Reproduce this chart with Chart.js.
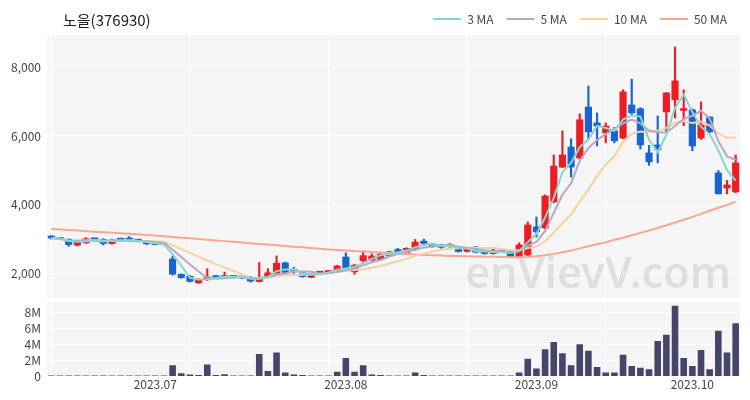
<!DOCTYPE html>
<html>
<head>
<meta charset="utf-8">
<script src="https://cdn.jsdelivr.net/npm/chart.js@4.4.0/dist/chart.umd.min.js"></script>
<style>
  body { margin: 0; background: #fff; }
  #price { position: absolute; left: 0; top: 0; }
  #vol { position: absolute; left: 0; top: 300px; }
</style>
</head>
<body>
<canvas id="price" width="750" height="300"></canvas>
<canvas id="vol" width="750" height="100"></canvas>
<script>
// 노을(376930) 일봉 - 시가/고가/저가/종가
var opens  = [3090,3040,3000,2830,2900,3010,3000,2880,3000,3040,2970,2950,2900,2880,2430,1990,1930,1740,1830,1930,
              1880,1920,1900,1900,1780,1910,2010,2320,2130,2030,1900,2020,2040,2070,2490,2060,2380,2400,2420,2520,
              2700,2590,2700,2950,2870,2840,2790,2780,2650,2780,2660,2590,2680,2660,2490,2550,3360,3330,4090,5100,
              5680,5360,6840,6380,6090,6150,5940,6900,6790,5510,5740,6700,7050,6740,6760,5940,6550,4930,4490,4380];
var highs  = [3110,3060,3020,2960,3050,3030,3020,3010,3020,3080,2990,2970,2920,2900,2520,2000,1950,1860,2150,1960,
              2050,1940,1920,1920,2330,2150,2520,2340,2190,2050,2010,2070,2090,2250,2610,2280,2660,2580,2620,2660,
              2740,2760,3000,3010,2890,2860,2880,2800,2740,2800,2680,2720,2700,2690,2900,3510,3650,4290,5450,6150,
              5920,6640,7450,6670,6380,6250,7340,7650,6820,5730,6580,7260,8580,7340,6790,6990,6560,5000,4710,5450];
var lows   = [3010,2990,2800,2810,2880,2970,2840,2860,2960,2930,2930,2850,2840,2840,1960,1870,1760,1720,1810,1870,
              1860,1880,1860,1760,1760,1890,1990,2010,2010,1900,1890,2010,2030,2060,2130,1990,2340,2380,2400,2500,
              2620,2570,2680,2830,2770,2740,2770,2630,2630,2610,2570,2570,2620,2480,2470,2530,3070,3310,4060,5080,
              4810,5330,5890,5710,5800,5800,5920,6600,5620,5150,5220,6120,6520,6300,5570,5900,6100,4320,4320,4350];
var closes = [3040,3000,2850,2950,3020,2990,2880,2990,2980,2950,2950,2870,2850,2850,1990,1890,1780,1840,1910,1890,
              1950,1900,1880,1790,1900,2030,2310,2040,2060,1920,1990,2060,2080,2230,2150,2250,2530,2520,2570,2640,
              2650,2740,2920,2880,2790,2770,2840,2650,2720,2630,2590,2690,2640,2500,2840,3420,3220,4260,5130,5450,
              5100,6470,6120,6290,6290,5860,7280,6670,5740,5250,5600,7250,7600,6780,5710,6320,6120,4320,4580,5220];
// 거래량 (백만 주)
var volumes = [0.08,0.06,0.07,0.05,0.05,0.04,0.06,0.05,0.04,0.08,0.05,0.06,0.05,0.07,1.4,0.4,0.25,0.2,1.5,0.2,
               0.3,0.05,0.05,0.06,2.8,0.7,3.0,0.5,0.25,0.2,0.05,0.06,0.05,0.6,2.3,0.6,1.4,0.25,0.2,0.15,
               0.15,0.15,0.5,0.2,0.05,0.05,0.06,0.05,0.05,0.04,0.05,0.06,0.05,0.05,0.5,2.2,1.0,3.4,4.3,2.9,
               1.4,4.0,3.2,1.2,0.5,0.5,2.7,1.3,1.1,0.9,4.4,5.2,8.8,2.3,1.3,3.3,0.9,5.7,3.0,6.6];
// 50일 이동평균
var ma50 = [3300,3285,3270,3255,3240,3225,3210,3195,3180,3165,3150,3130,3110,3090,3070,3050,3030,3010,2990,2970,
            2950,2930,2910,2890,2870,2850,2830,2810,2790,2770,2750,2730,2710,2695,2680,2665,2650,2635,2620,2605,
            2590,2575,2560,2550,2540,2530,2520,2515,2510,2505,2500,2495,2490,2485,2480,2490,2510,2540,2580,2630,
            2680,2740,2800,2860,2920,2990,3050,3120,3190,3260,3330,3410,3490,3570,3650,3740,3830,3920,4000,4090];

var tickIdx = [12, 34, 56, 74];
var tickLabels = ['2023.07', '2023.08', '2023.09', '2023.10'];

var days = closes.map(function (c, i) { return i; });

function movingAvg(n) {
  return closes.map(function (c, i) {
    var s = Math.max(0, i - n + 1), sum = 0;
    for (var k = s; k <= i; k++) sum += closes[k];
    return sum / (i - s + 1);
  });
}

var UP = '#ee1c25', DOWN = '#1a64d2';
var candleColors = closes.map(function (c, i) { return c >= opens[i] ? UP : DOWN; });
var FONT = '"Noto Sans CJK KR", "Noto Sans", sans-serif';
Chart.defaults.font.family = FONT;
Chart.defaults.color = '#444';

var plotBg = {
  id: 'plotBg',
  beforeDraw: function (chart) {
    var a = chart.chartArea, ctx = chart.ctx;
    ctx.save();
    ctx.fillStyle = '#f5f5f5';
    ctx.fillRect(a.left, a.top, a.right - a.left, a.bottom - a.top);
    ctx.restore();
  }
};

var titleAndMark = {
  id: 'titleAndMark',
  beforeDatasetsDraw: function (chart) {
    var ctx = chart.ctx;
    ctx.save();
    ctx.fillStyle = 'rgba(0,0,0,0.09)';
    ctx.font = '600 43px "Noto Sans", sans-serif';
    ctx.textAlign = 'right';
    ctx.textBaseline = 'alphabetic';
    ctx.fillText('enVievV.com', 731, 288);
    ctx.restore();
  },
  afterDraw: function (chart) {
    var ctx = chart.ctx;
    ctx.save();
    ctx.fillStyle = '#222';
    ctx.font = '15px ' + FONT;
    ctx.textAlign = 'left';
    ctx.textBaseline = 'middle';
    ctx.fillText('노을(376930)', 63, 20);
    ctx.restore();
  }
};

function xGrid(ctx) { return ctx.index % 16 === 0 ? '#ffffff' : 'rgba(0,0,0,0)'; }
function noPad(s) { s.width = 47; s.paddingTop = 0; s.paddingBottom = 0; }

new Chart(document.getElementById('price'), {
  type: 'bar',
  data: {
    labels: days,
    datasets: [
      { type: 'line', label: '3 MA', data: movingAvg(3), borderColor: '#86d7cc', backgroundColor: '#86d7cc', borderWidth: 2, pointRadius: 0, order: 0 },
      { type: 'line', label: '5 MA', data: movingAvg(5), borderColor: '#b7a7cc', backgroundColor: '#b7a7cc', borderWidth: 2, pointRadius: 0, order: 0 },
      { type: 'line', label: '10 MA', data: movingAvg(10), borderColor: '#f5d2a0', backgroundColor: '#f5d2a0', borderWidth: 2, pointRadius: 0, order: 0 },
      { type: 'line', label: '50 MA', data: ma50, borderColor: '#f6a892', backgroundColor: '#f6a892', borderWidth: 2, pointRadius: 0, order: 0 },
      { label: 'body', data: opens.map(function (o, i) { return [o, closes[i]]; }), backgroundColor: candleColors,
        barThickness: 6.5, grouped: false, minBarLength: 2, order: 1 },
      { label: 'wick', data: lows.map(function (l, i) { return [l, highs[i]]; }), backgroundColor: candleColors,
        barThickness: 1.5, grouped: false, order: 2 }
    ]
  },
  options: {
    responsive: false,
    animation: false,
    layout: { padding: { left: 0, right: 10, top: 0, bottom: 2 } },
    plugins: {
      legend: {
        position: 'top', align: 'end',
        labels: {
          boxWidth: 28, boxHeight: 2, padding: 13, color: '#444', font: { size: 12 },
          generateLabels: function (chart) {
            return Chart.defaults.plugins.legend.labels.generateLabels(chart)
              .filter(function (item) { return item.datasetIndex < 4; })
              .map(function (item) { item.lineWidth = 0; return item; });
          }
        }
      },
      tooltip: { enabled: false }
    },
    scales: {
      x: {
        grid: { color: xGrid, drawTicks: false, offset: false },
        border: { display: false },
        ticks: { display: false, autoSkip: false },
        afterFit: function (s) { s.height = 0; }
      },
      y: {
        min: 1300, max: 8930,
        afterBuildTicks: function (s) { s.ticks = [2000, 4000, 6000, 8000].map(function (v) { return { value: v }; }); },
        afterFit: noPad,
        grid: { color: '#ffffff', drawTicks: false },
        border: { display: false },
        ticks: { padding: 6, font: { size: 12 }, callback: function (v) { return v.toLocaleString('en-US'); } }
      }
    }
  },
  plugins: [plotBg, titleAndMark]
});

new Chart(document.getElementById('vol'), {
  type: 'bar',
  data: {
    labels: days,
    datasets: [{ data: volumes, backgroundColor: '#45466b', barPercentage: 0.76, categoryPercentage: 1, minBarLength: 1 }]
  },
  options: {
    responsive: false,
    animation: false,
    layout: { padding: { left: 0, right: 10, top: 2, bottom: 7 } },
    plugins: { legend: { display: false }, tooltip: { enabled: false } },
    scales: {
      x: {
        grid: { color: xGrid, drawTicks: false, offset: false },
        border: { display: false },
        ticks: {
          autoSkip: false, maxRotation: 0, padding: 1, font: { size: 12 },
          callback: function (v, i) { var k = tickIdx.indexOf(i); return k >= 0 ? tickLabels[k] : ''; }
        }
      },
      y: {
        min: 0, max: 9.25,
        afterBuildTicks: function (s) { s.ticks = [0, 2, 4, 6, 8].map(function (v) { return { value: v }; }); },
        afterFit: noPad,
        grid: { color: '#ffffff', drawTicks: false },
        border: { display: false },
        ticks: { autoSkip: false, padding: 6, font: { size: 12 }, callback: function (v) { return v === 0 ? '0' : v + 'M'; } }
      }
    }
  },
  plugins: [plotBg]
});
</script>
</body>
</html>
